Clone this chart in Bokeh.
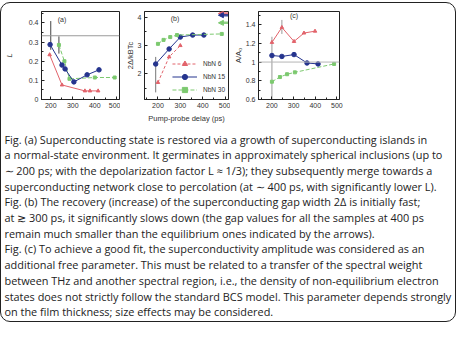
import numpy as np
from bokeh.plotting import figure
from bokeh.layouts import row, column
from bokeh.models import (Range1d, LinearAxis, SingleIntervalTicker, Span, Label,
                          Legend, LegendItem, Arrow, NormalHead, Spacer)
from bokeh.core.properties import value
from bokeh.embed import file_html
from bokeh.resources import INLINE

# ---------------- data ----------------
# (a) depolarization factor L vs pump-probe delay (ps)
a_red_x = [195, 251, 355, 378, 415]
a_red_y = [0.234, 0.076, 0.045, 0.045, 0.045]
a_blue_x = [197, 251, 265, 305, 365, 419]
a_blue_y = [0.287, 0.18, 0.16, 0.092, 0.129, 0.155]
a_green_x = [237, 262, 285, 400, 490]
a_green_y = [0.285, 0.2, 0.108, 0.115, 0.115]
a_err_x = [200, 237]
a_err_lo = [0.26, 0.24]
a_err_hi = [0.41, 0.33]
L_sphere = 1 / 3

# (b) gap 2Δ/kBTc
b_red_x = [200, 250, 300]
b_red_y = [1.7, 2.6, 3.0]
b_blue_x = [190, 250, 300, 355, 405]
b_blue_y = [2.35, 2.88, 3.3, 3.37, 3.37]
b_green_x = [200, 225, 255, 285, 485]
b_green_y = [3.06, 3.2, 3.3, 3.37, 3.41]
b_err_x = [190]
b_err_lo = [1.35]
b_err_hi = [2.6]
b_equilibrium = [4.13, 4.07, 3.8]   # red, blue, green (arrows)
legend_labels = ["NbN 6", "NbN 15", "NbN 30"]

# (c) superconductivity amplitude
c_red_x = [200, 246, 302, 348, 399]
c_red_y = [1.21, 1.37, 1.22, 1.31, 1.33]
c_blue_x = [200, 246, 302, 362, 413]
c_blue_y = [1.07, 1.06, 1.08, 0.99, 0.98]
c_green_x = [200, 237, 270, 306, 487]
c_green_y = [0.79, 0.84, 0.87, 0.89, 0.98]
c_err_x = [200, 246]
c_err_lo = [0.6, 1.3]
c_err_hi = [1.27, 1.45]

x_ticks_step = 100
caption_lines = [
    "Fig. (a) Superconducting state is restored via a growth of superconducting islands in",
    "a normal-state environment. It germinates in approximately spherical inclusions (up to",
    "\u223c 200 ps; with the depolarization factor L \u2248 1/3); they subsequently merge towards a",
    "superconducting network close to percolation (at \u223c 400 ps, with significantly lower L).",
    "Fig. (b) The recovery (increase) of the superconducting gap width 2\u0394 is initially fast;",
    "at \u2273 300 ps, it significantly slows down (the gap values for all the samples at 400 ps",
    "remain much smaller than the equilibrium ones indicated by the arrows).",
    "Fig. (c) To achieve a good fit, the superconductivity amplitude was considered as an",
    "additional free parameter. This must be related to a transfer of the spectral weight",
    "between THz and another spectral region, i.e., the density of non-equilibrium electron",
    "states does not strictly follow the standard BCS model. This parameter depends strongly",
    "on the film thickness; size effects may be considered.",
]

RED = "#e2636b"
BLUE = "#25348e"
GREEN = "#7cc96f"
INK = "#222222"
TICK_FONT = "Liberation Sans"
ROW_H = 125


def make_panel(width, left, right, xr, yr, ystep, ylabel, ystand, overrides, xlabel=None):
    p = figure(width=width, height=ROW_H, x_range=Range1d(*xr), y_range=Range1d(*yr),
               output_backend="svg", toolbar_location=None,
               min_border_left=left, min_border_right=right,
               min_border_top=8, min_border_bottom=ROW_H - 96,
               x_axis_location=None, y_axis_location=None)
    p.grid.visible = False
    p.outline_line_color = INK
    p.outline_line_width = 1
    p.background_fill_color = None
    p.border_fill_color = None
    xt = SingleIntervalTicker(interval=x_ticks_step, num_minor_ticks=2)
    yt = SingleIntervalTicker(interval=ystep, num_minor_ticks=2)
    common = dict(major_tick_in=3, major_tick_out=0, minor_tick_in=2, minor_tick_out=0,
                  axis_line_color=INK, major_tick_line_color=INK, minor_tick_line_color=INK)
    xb = LinearAxis(ticker=xt, major_label_text_font_size="7px",
                    major_label_text_font=TICK_FONT, major_label_text_color="#333",
                    major_label_standoff=3, **common)
    if xlabel:
        xb.axis_label = xlabel
        xb.axis_label_text_font_size = "7.5px"
        xb.axis_label_text_font = TICK_FONT
        xb.axis_label_text_font_style = "normal"
        xb.axis_label_text_color = "#333"
        xb.axis_label_standoff = 3
    p.add_layout(xb, "below")
    yl = LinearAxis(ticker=yt, major_label_text_font_size="7px",
                    major_label_text_font=TICK_FONT, major_label_text_color="#333",
                    major_label_standoff=3, major_label_overrides=overrides,
                    axis_label=ylabel, axis_label_text_font_size="7.5px",
                    axis_label_text_font=TICK_FONT, axis_label_text_font_style="normal",
                    axis_label_text_color="#333", axis_label_standoff=ystand, **common)
    p.add_layout(yl, "left")
    return p


def series(p, x, y, color, marker, size, dash="solid"):
    ln = p.line(x, y, line_color=color, line_width=1, line_dash=dash)
    sc = p.scatter(x, y, marker=marker, size=size, fill_color=color, line_color=color)
    return ln, sc


# ---- panel (a)
pa = make_panel(119, 40, 1, (158, 512), (0, 0.46), 0.1, "L", 12, {0: "0"})
pa.yaxis[0].axis_label_text_font_style = "italic"
pa.add_layout(Span(location=L_sphere, dimension="width", line_color="#9a9a9a", line_width=1.2))
pa.segment(a_err_x, a_err_lo, a_err_x, a_err_hi, line_color="#444", line_width=1)
series(pa, a_red_x, a_red_y, RED, "triangle", 3.5)
series(pa, a_green_x, a_green_y, GREEN, "square", 3, "4 2")
series(pa, a_blue_x, a_blue_y, BLUE, "circle", 4.5)
pa.add_layout(Label(x=251, y=0.418, text="(a)", text_font_size="7px", text_font=TICK_FONT,
                    text_color="#333", text_align="center", text_baseline="middle"))

# ---- panel (b)
pb = make_panel(110, 24, 2, (140, 515), (1.1, 4.2), 1, "2\u0394/kBTc", 0, {},
                xlabel="Pump-probe delay (ps)")
pb.segment(b_err_x, b_err_lo, b_err_x, b_err_hi, line_color="#777", line_width=1)
rl, rs = series(pb, b_red_x, b_red_y, RED, "triangle", 3.5, "3 2")
bl, bs = series(pb, b_blue_x, b_blue_y, BLUE, "circle", 4.5)
gl, gs = series(pb, b_green_x, b_green_y, GREEN, "square", 3, "4 2")
for yv, c in zip(b_equilibrium, [RED, BLUE, GREEN]):
    pb.add_layout(Arrow(end=NormalHead(size=5, fill_color=c, line_color=c),
                        x_start=pb.x_range.end - 2, y_start=yv,
                        x_end=pb.x_range.end - 45, y_end=yv,
                        line_color=c, line_width=2.5, line_alpha=0.85))
legend = Legend(items=[LegendItem(label=legend_labels[0], renderers=[rl, rs]),
                       LegendItem(label=legend_labels[1], renderers=[bl, bs]),
                       LegendItem(label=legend_labels[2], renderers=[gl, gs])],
                location="bottom_right", margin=3, padding=0, spacing=0,
                glyph_width=25, glyph_height=13, label_height=13, label_standoff=6,
                label_text_font_size="6.5px", label_text_font=TICK_FONT,
                label_text_color="#333", background_fill_alpha=0, border_line_alpha=0)
pb.add_layout(legend)
pb.add_layout(Label(x=276, y=3.94, text="(b)", text_font_size="7px", text_font=TICK_FONT,
                    text_color="#333", text_align="center", text_baseline="middle"))

# ---- panel (c)
pc = make_panel(224, 28, 115, (138, 512), (0.6, 1.54), 0.2, "A/A\u2080", 0, {1: "1"})
pc.add_layout(Span(location=1, dimension="width", line_color="#b5b5b5", line_width=1))
pc.segment(c_err_x, c_err_lo, c_err_x, c_err_hi, line_color="#999", line_width=1)
series(pc, c_red_x, c_red_y, RED, "triangle", 3.5)
series(pc, c_green_x, c_green_y, GREEN, "square", 3, "4 2")
series(pc, c_blue_x, c_blue_y, BLUE, "circle", 4.5)
pc.add_layout(Label(x=302, y=1.5, text="(c)", text_font_size="7px", text_font=TICK_FONT,
                    text_color="#333", text_align="center", text_baseline="middle"))

# ---- caption
CAP_H = 192
cap_top = 11.5 + ROW_H
cap = figure(width=453, height=CAP_H, x_range=Range1d(9.5, 462.5),
             y_range=Range1d(cap_top + CAP_H, cap_top),
             output_backend="svg", toolbar_location=None, min_border=0,
             x_axis_location=None, y_axis_location=None)
cap.grid.visible = False
cap.outline_line_color = None
cap.background_fill_color = None
cap.border_fill_color = None
n = len(caption_lines)
cap.text(x=[12.5] * n, y=[147 + 15.7 * i for i in range(n)], text=caption_lines,
         text_font=value("Open Sans"), text_font_size=value("10.9px"),
         text_baseline="middle", text_align="left", text_color=INK)

box = column(row(pa, pb, pc), cap,
             styles={"border": "1.5px solid #222", "border-radius": "10px",
                     "box-sizing": "border-box", "width": "456px",
                     "height": f"{ROW_H + CAP_H + 3}px"})
layout = column(Spacer(width=456, height=2), box)

open("out.html", "w").write(file_html(layout, INLINE))
